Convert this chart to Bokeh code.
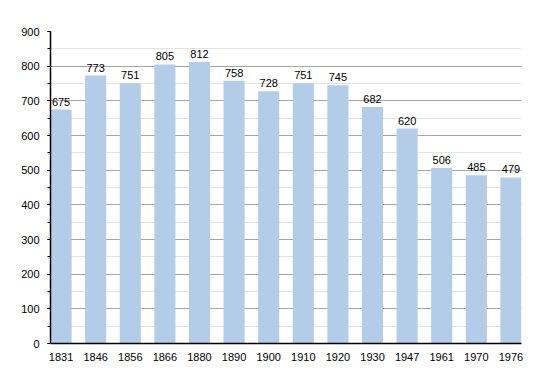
from bokeh.plotting import figure
from bokeh.models import ColumnDataSource, Range1d, FixedTicker, SingleIntervalTicker
from bokeh.core.properties import value
from bokeh.embed import file_html
from bokeh.resources import INLINE

years = ["1831", "1846", "1856", "1866", "1880", "1890", "1900", "1910",
         "1920", "1930", "1947", "1961", "1970", "1976"]
population = [675, 773, 751, 805, 812, 758, 728, 751, 745, 682, 620, 506, 485, 479]
y_ticks_interval = 100

xs = list(range(len(years)))
src = ColumnDataSource(dict(x=xs, y=population, label=[str(v) for v in population]))

bar_w = 0.61
p = figure(width=534, height=357, output_backend="svg", toolbar_location=None,
           x_range=Range1d(-bar_w / 2, len(years) - 1 + bar_w / 2),
           y_range=Range1d(0, 900),
           frame_width=471, frame_height=312,
           min_border_left=50, min_border_right=13, min_border_top=31, min_border_bottom=14)
p.outline_line_color = None
p.background_fill_color = "white"

p.vbar(x="x", top="y", width=bar_w, bottom=0, source=src,
       fill_color="#b3cde8", line_color=None)

p.text(x="x", y="y", text="label", source=src, text_align="center",
       text_baseline="bottom", y_offset=-4, text_font=value("Liberation Sans"),
       text_font_size="11px", text_color="black")

# x axis
p.xaxis.ticker = FixedTicker(ticks=xs)
p.xaxis.major_label_overrides = {i: y for i, y in enumerate(years)}
p.xaxis.major_tick_line_color = None
p.xaxis.minor_tick_line_color = None
p.xaxis.major_label_standoff = 3
p.xaxis.axis_line_color = "black"
p.xaxis.axis_line_width = 1.5
p.xgrid.grid_line_color = None

# y axis
p.yaxis.ticker = SingleIntervalTicker(interval=y_ticks_interval, num_minor_ticks=2)
p.yaxis.major_tick_in = 0
p.yaxis.major_tick_out = 3
p.yaxis.minor_tick_in = 0
p.yaxis.minor_tick_out = 3
p.yaxis.major_label_standoff = 8
p.yaxis.axis_line_color = "black"
p.yaxis.axis_line_width = 1.5
p.ygrid.grid_line_color = "#a6a6a6"
p.ygrid.minor_grid_line_color = "#e4e4e4"

for ax in (p.xaxis, p.yaxis):
    ax.major_label_text_font = "Liberation Sans"
    ax.major_label_text_font_size = "11px"
    ax.major_label_text_color = "black"

open("out.html", "w").write(file_html(p, INLINE))
